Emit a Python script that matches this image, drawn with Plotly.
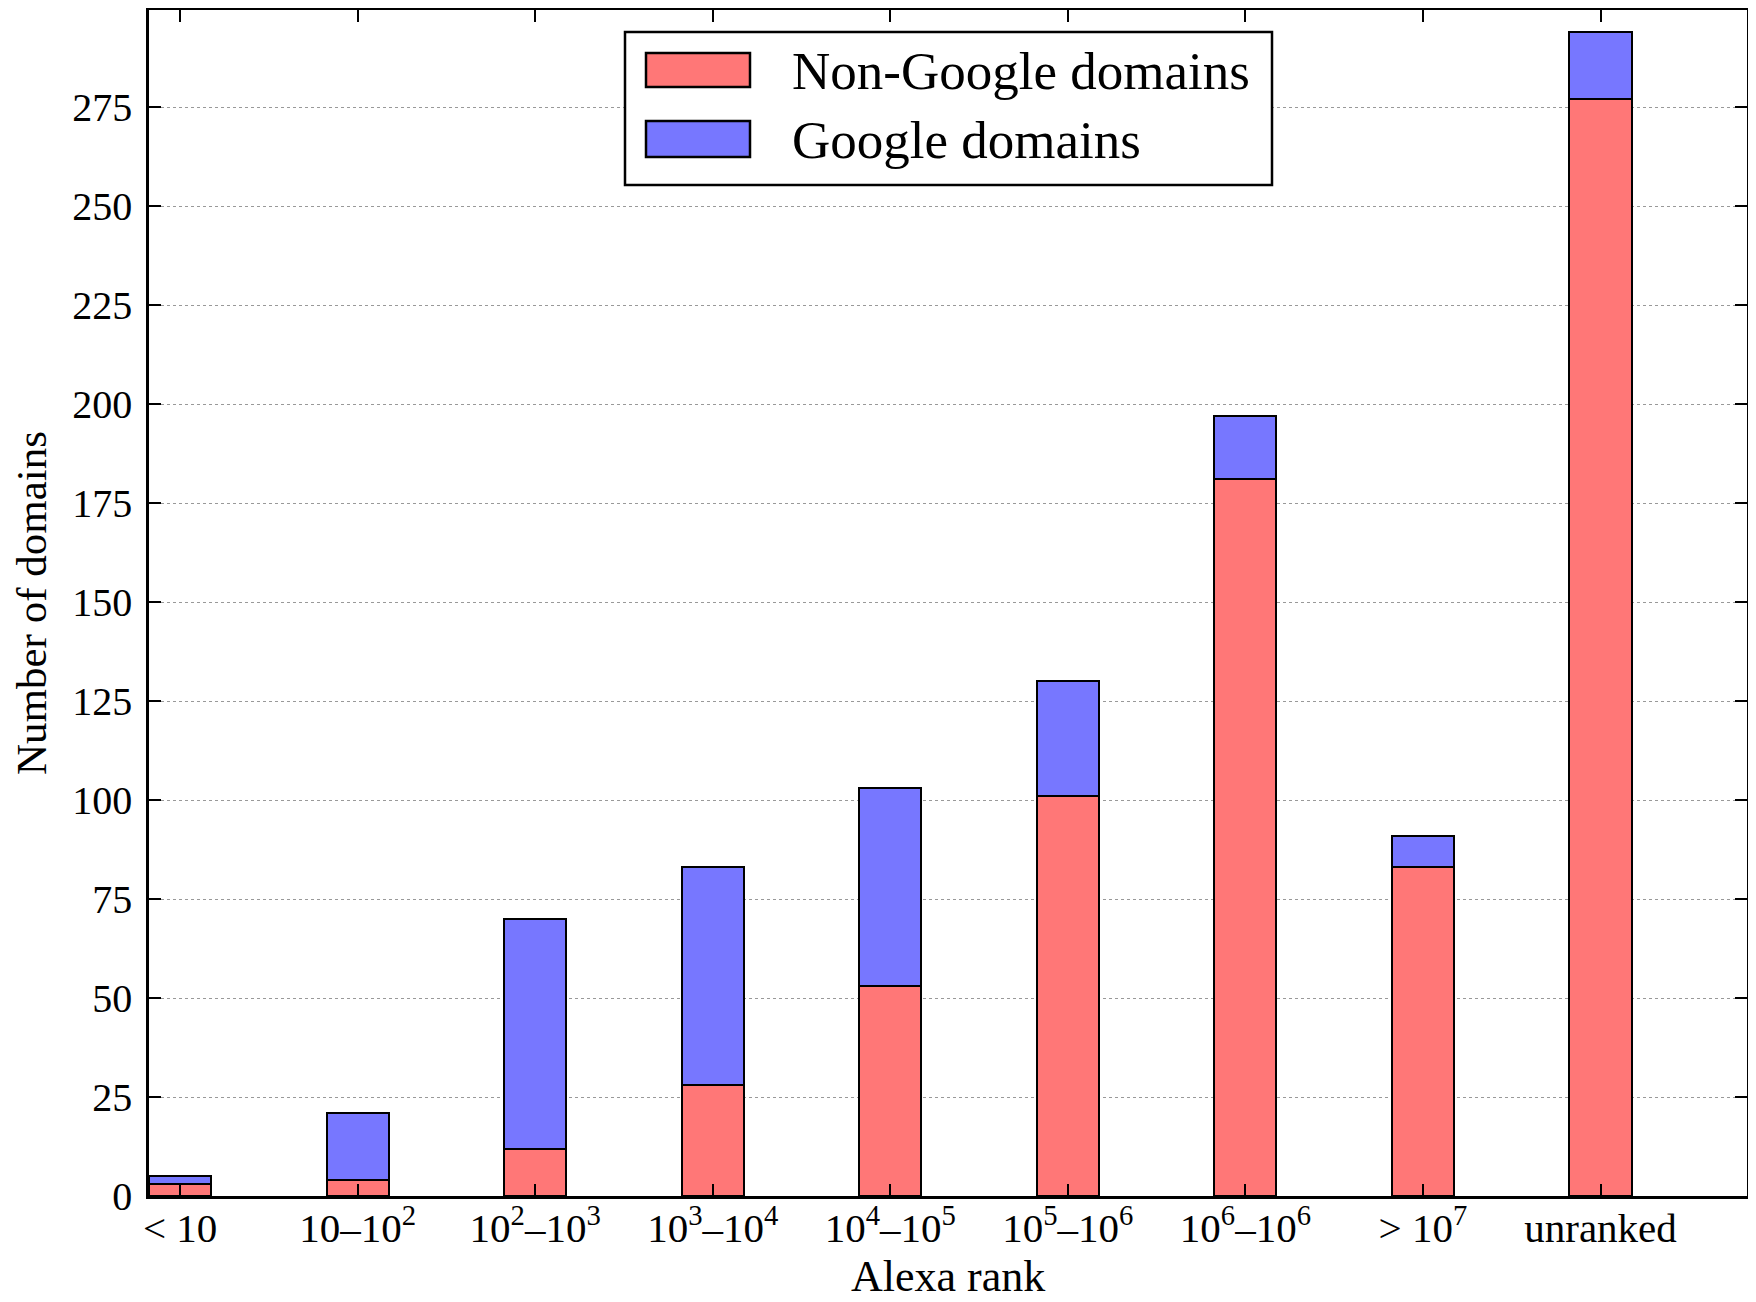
import plotly.graph_objects as go

categories = ["&lt; 10", "10–10<sup>2</sup>", "10<sup>2</sup>–10<sup>3</sup>", "10<sup>3</sup>–10<sup>4</sup>",
              "10<sup>4</sup>–10<sup>5</sup>", "10<sup>5</sup>–10<sup>6</sup>", "10<sup>6</sup>–10<sup>6</sup>",
              "&gt; 10<sup>7</sup>", "unranked"]
non_google = [3, 4, 12, 28, 53, 101, 181, 83, 277]
google = [2, 17, 58, 55, 50, 29, 16, 8, 17]
y_ticks = [0, 25, 50, 75, 100, 125, 150, 175, 200, 225, 250, 275]

BAR_W = 0.35
xpos = [i + BAR_W / 2 for i in range(len(categories))]

RED = "#ff7777"
BLUE = "#7777ff"
FONT = "Liberation Serif"

fig = go.Figure()
fig.add_trace(go.Bar(x=xpos, y=non_google, width=BAR_W, name="Non-Google domains",
                     marker=dict(color=RED, line=dict(color="black", width=2.5)), showlegend=False))
fig.add_trace(go.Bar(x=xpos, y=google, width=BAR_W, name="Google domains",
                     marker=dict(color=BLUE, line=dict(color="black", width=2.5)), showlegend=False))

# page has an 8px body margin; size the figure so it fits the 1756x1302 window
OFF = 8
W, H = 1740, 1286
L, R, T, B = 141, 1, 2, 98
pw, ph = W - L - R, H - T - B
def px(x): return (x - OFF - L) / pw          # page px -> paper
def py(y): return (H - B - (y - OFF)) / ph    # page px -> paper

shapes = [
    dict(type="rect", xref="paper", yref="paper", x0=px(625), x1=px(1272), y0=py(185), y1=py(32),
         line=dict(color="black", width=2.5), fillcolor="white", layer="above"),
    dict(type="rect", xref="paper", yref="paper", x0=px(646), x1=px(750), y0=py(87), y1=py(53),
         line=dict(color="black", width=2.5), fillcolor=RED, layer="above"),
    dict(type="rect", xref="paper", yref="paper", x0=px(646), x1=px(750), y0=py(157), y1=py(121),
         line=dict(color="black", width=2.5), fillcolor=BLUE, layer="above"),
]
annotations = [
    dict(xref="paper", yref="paper", x=px(790), y=py(71), text="Non-Google domains", showarrow=False,
         xanchor="left", yanchor="middle", font=dict(family=FONT, size=53, color="black")),
    dict(xref="paper", yref="paper", x=px(790), y=py(140), text="Google domains", showarrow=False,
         xanchor="left", yanchor="middle", font=dict(family=FONT, size=53, color="black")),
    # x-axis title
    dict(xref="paper", yref="paper", x=0.5, y=py(1276), text="Alexa rank", showarrow=False,
         xanchor="center", yanchor="middle", borderpad=0,
         font=dict(family=FONT, size=44, color="black")),
]

fig.update_layout(
    barmode="stack",
    width=W, height=H,
    margin=dict(l=L, r=R, t=T, b=B, pad=0, autoexpand=False),
    paper_bgcolor="white", plot_bgcolor="white",
    font=dict(family=FONT, color="black", size=40),
    shapes=shapes, annotations=annotations,
    bargap=0,
)
fig.update_xaxes(
    range=[0, 9], tickmode="array", tickvals=xpos, ticktext=categories,
    showline=True, linecolor="black", linewidth=2.5, mirror="ticks",
    ticks="inside", ticklen=12, tickwidth=1.5, tickcolor="black",
    showgrid=False, zeroline=False, automargin=False,
    tickfont=dict(family=FONT, size=41, color="black"),
    ticklabelstandoff=-6,
)
fig.update_yaxes(
    range=[0, 299.6], tickmode="array", tickvals=y_ticks,
    showline=True, linecolor="black", linewidth=2.5, mirror="ticks",
    ticks="inside", ticklen=12, tickwidth=1.5, tickcolor="black",
    showgrid=True, gridcolor="#999999", griddash="dot", gridwidth=1.2,
    zeroline=False, automargin=False,
    tickfont=dict(family=FONT, size=40, color="black"),
    ticklabelstandoff=6,
    title=dict(text="Number of domains", font=dict(family=FONT, size=43, color="black"), standoff=14),
)

fig.write_html("out.html")
